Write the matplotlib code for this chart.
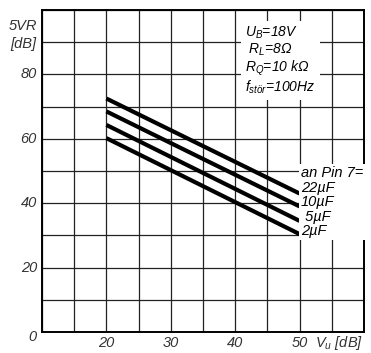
import matplotlib.pyplot as plt
from matplotlib.ticker import MultipleLocator

plt.rcParams['font.family'] = ['Liberation Sans', 'DejaVu Sans']
plt.rcParams['font.style'] = 'italic'
plt.rcParams['mathtext.fontset'] = 'custom'
plt.rcParams['mathtext.it'] = 'Liberation Sans:italic'
plt.rcParams['mathtext.rm'] = 'Liberation Sans:italic'
plt.rcParams['mathtext.default'] = 'it'

# Daten
vu = [20, 50]
kurven = {
    "22µF": [72.5, 43.0],
    "10µF": [68.5, 39.0],
    "5µF": [64.3, 34.5],
    "2µF": [60.2, 30.4],
}
x_labels = [20, 30, 40, 50]
y_labels = [0, 20, 40, 60, 80]

fig = plt.figure(figsize=(3.71, 3.53), dpi=100)
ax = fig.add_axes([0.1132, 0.0595, 0.8679, 0.9122])
ax.set_xlim(10, 60)
ax.set_ylim(0, 100)

ax.xaxis.set_major_locator(MultipleLocator(5))
ax.yaxis.set_major_locator(MultipleLocator(10))
ax.grid(True, color="#222222", linewidth=0.9)
ax.set_axisbelow(True)
ax.tick_params(length=0)
ax.set_xticklabels([])
ax.set_yticklabels([])
for s in ax.spines.values():
    s.set_linewidth(1.4)

for name, vals in kurven.items():
    ax.plot(vu, vals, color="black", linewidth=3.0, solid_capstyle="butt", zorder=3)

# Achsenbeschriftung
fs = 10.5
for v in x_labels:
    ax.text(v, -4.6, str(v), ha="center", va="baseline", fontsize=fs, color="#333333")
for v in y_labels:
    ax.text(9.2, v - (1.5 if v == 0 else 0), str(v), ha="right", va="center", fontsize=fs, color="#333333")
ax.text(9.2, 95, "5VR", ha="right", va="center", fontsize=fs, color="#333333")
ax.text(9.2, 89.5, "[dB]", ha="right", va="center", fontsize=fs, color="#333333")
ax.text(52.4, -4.6, r"$V_u$ [dB]", ha="left", va="baseline", fontsize=fs, color="#333333")

params = "$U_B$=18V\n $R_L$=8$\\Omega$\n$R_Q$=10 k$\\Omega$\n$f_{stör}$=100Hz"
ax.text(41.6, 84.3, params, ha="left", va="center", fontsize=10, linespacing=1.05,
        bbox=dict(facecolor="white", edgecolor="none", pad=3), zorder=4)

pin = "an Pin 7=\n22µF\n10µF\n 5µF\n2µF"
ax.text(50.2, 40.3, pin, ha="left", va="center", fontsize=fs, linespacing=1.05,
        bbox=dict(facecolor="white", edgecolor="none", pad=1.5), zorder=4)

fig.savefig("out.png", dpi=100)
